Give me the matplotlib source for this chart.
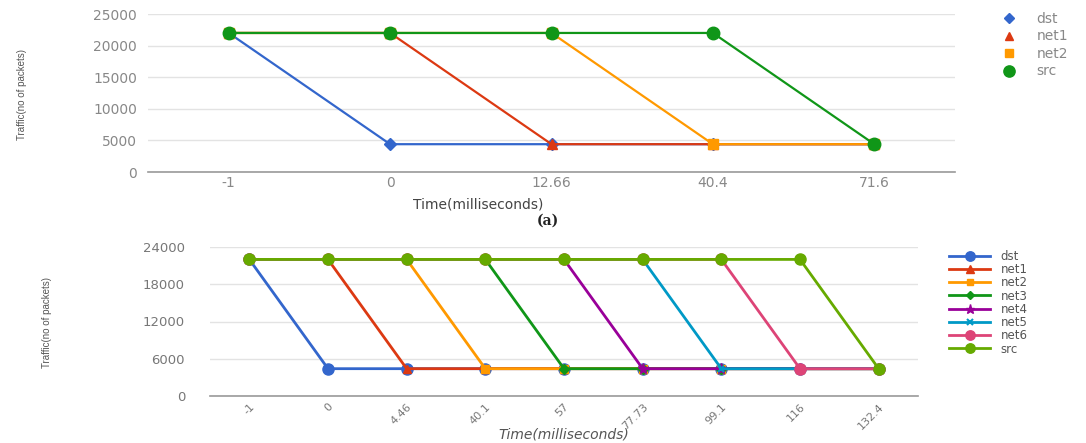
import matplotlib
matplotlib.use('Agg')
import matplotlib.pyplot as plt

# (a) four nodes
times_a = ['-1', '0', '12.66', '40.4', '71.6']
names_a = ['dst', 'net1', 'net2', 'src']
dst_a = [22000, 4400, 4400, 4400, 4400]
net1_a = [22000, 22000, 4400, 4400, 4400]
net2_a = [22000, 22000, 22000, 4400, 4400]
src_a = [22000, 22000, 22000, 22000, 4400]

# (b) eight nodes
times_b = ['-1', '0', '4.46', '40.1', '57', '77.73', '99.1', '116', '132.4']
names_b = ['dst', 'net1', 'net2', 'net3', 'net4', 'net5', 'net6', 'src']
dst_b = [22000, 4400, 4400, 4400, 4400, 4400, 4400, 4400, 4400]
net1_b = [22000, 22000, 4400, 4400, 4400, 4400, 4400, 4400, 4400]
net2_b = [22000, 22000, 22000, 4400, 4400, 4400, 4400, 4400, 4400]
net3_b = [22000, 22000, 22000, 22000, 4400, 4400, 4400, 4400, 4400]
net4_b = [22000, 22000, 22000, 22000, 22000, 4400, 4400, 4400, 4400]
net5_b = [22000, 22000, 22000, 22000, 22000, 22000, 4400, 4400, 4400]
net6_b = [22000, 22000, 22000, 22000, 22000, 22000, 22000, 4400, 4400]
src_b = [22000, 22000, 22000, 22000, 22000, 22000, 22000, 22000, 4400]

colors_a = ['#3366cc', '#dc3912', '#ff9900', '#109618']
markers_a = ['D', '^', 's', 'o']
colors_b = ['#3366cc', '#dc3912', '#ff9900', '#109618',
            '#990099', '#0099c6', '#dd4477', '#66aa00']
markers_b = ['o', '^', 's', 'D', '*', 'x', 'o', 'o']
msize = {'o': 8, 'D': 5, '^': 6, 's': 5.5, '*': 8, 'x': 5}

W, H = 1086, 443
fig = plt.figure(figsize=(W / 100, H / 100), dpi=100)


def style_axes(ax, ymax, step, pad_y, tick_color):
    ax.set_ylim(0, ymax)
    ax.set_yticks(range(0, ymax + 1, step))
    ax.grid(axis='y', color='#e3e3e3', linewidth=1)
    ax.set_axisbelow(True)
    for s in ['top', 'right', 'left']:
        ax.spines[s].set_visible(False)
    ax.spines['bottom'].set_color('#999999')
    ax.spines['bottom'].set_linewidth(1.2)
    ax.tick_params(axis='both', length=0, colors=tick_color)
    ax.tick_params(axis='y', pad=pad_y)


# top chart
ax1 = fig.add_axes([148 / W, 1 - 172 / H, (955 - 148) / W, (172 - 14) / H])
series_a = [dst_a, net1_a, net2_a, src_a]
x_a = range(len(times_a))
for vals, name, c, m in zip(series_a, names_a, colors_a, markers_a):
    ax1.plot(x_a, vals, color=c, marker=m, markersize=msize[m] + 1,
             linewidth=1.6, label=name, clip_on=False)
ax1.set_xlim(-0.5, len(times_a) - 0.5)
ax1.set_xticks(list(x_a))
ax1.set_xticklabels(times_a, fontsize=10)
style_axes(ax1, 25000, 5000, 8, '#888888')
for t in ax1.get_yticklabels():
    t.set_fontsize(10)
ax1.tick_params(axis='x', pad=3)
ax1.set_xlabel('Time(milliseconds)', fontsize=10, color='#444444')
ax1.xaxis.set_label_coords((478 - 148) / (955 - 148), -(197 - 172) / (172 - 14))
leg1 = ax1.legend(loc='upper left', bbox_to_anchor=(995 / W, 1 - 5 / H),
                  bbox_transform=fig.transFigure, frameon=False, fontsize=10,
                  borderpad=0, handlelength=1.0, handletextpad=1.5,
                  labelspacing=0.25, labelcolor='#888888', markerscale=0.9)
for ln in leg1.get_lines():
    ln.set_linestyle('None')

fig.text(548 / W, 1 - 221 / H, '(a)', fontsize=10, fontweight='bold',
         family='DejaVu Serif', ha='center', va='center', color='#222222')
fig.text(22 / W, 1 - 95 / H, 'Traffic(no of packets)', rotation=90,
         fontsize=7, ha='center', va='center', color='#555555',
         family=['Liberation Sans Narrow', 'Liberation Sans', 'DejaVu Sans'])

# bottom chart
ax2 = fig.add_axes([210 / W, 1 - 396 / H, (918 - 210) / W, (396 - 247) / H])
series_b = [dst_b, net1_b, net2_b, net3_b, net4_b, net5_b, net6_b, src_b]
x_b = range(len(times_b))
for vals, name, c, m in zip(series_b, names_b, colors_b, markers_b):
    ax2.plot(x_b, vals, color=c, marker=m, markersize=msize[m],
             linewidth=2.0, markeredgewidth=1.5 if m == 'x' else 1.0,
             label=name, clip_on=False)
ax2.set_xlim(-0.5, len(times_b) - 0.5)
ax2.set_xticks(list(x_b))
ax2.set_xticklabels(times_b, fontsize=8, rotation=45, ha='right',
                    rotation_mode='anchor')
style_axes(ax2, 24000, 6000, 18, '#777777')
for t in ax2.get_yticklabels():
    t.set_fontsize(9.5)
ax2.tick_params(axis='x', pad=4)
ax2.set_xlabel('Time(milliseconds)', fontsize=10, color='#555555',
               style='italic')
ax2.xaxis.set_label_coords(0.5, -(428 - 396) / (396 - 247))
ax2.legend(loc='upper left', bbox_to_anchor=(943 / W, 1 - 244 / H),
           bbox_transform=fig.transFigure, frameon=False, fontsize=8.5,
           borderpad=0, handlelength=3.5, handletextpad=0.9,
           labelspacing=0.02, labelcolor='#555555', markerscale=0.85)

fig.text(47 / W, 1 - 322 / H, 'Traffic(no of packets)', rotation=90,
         fontsize=7, ha='center', va='center', color='#555555',
         family=['Liberation Sans Narrow', 'Liberation Sans', 'DejaVu Sans'])

fig.savefig('out.png', dpi=100, facecolor='white')
